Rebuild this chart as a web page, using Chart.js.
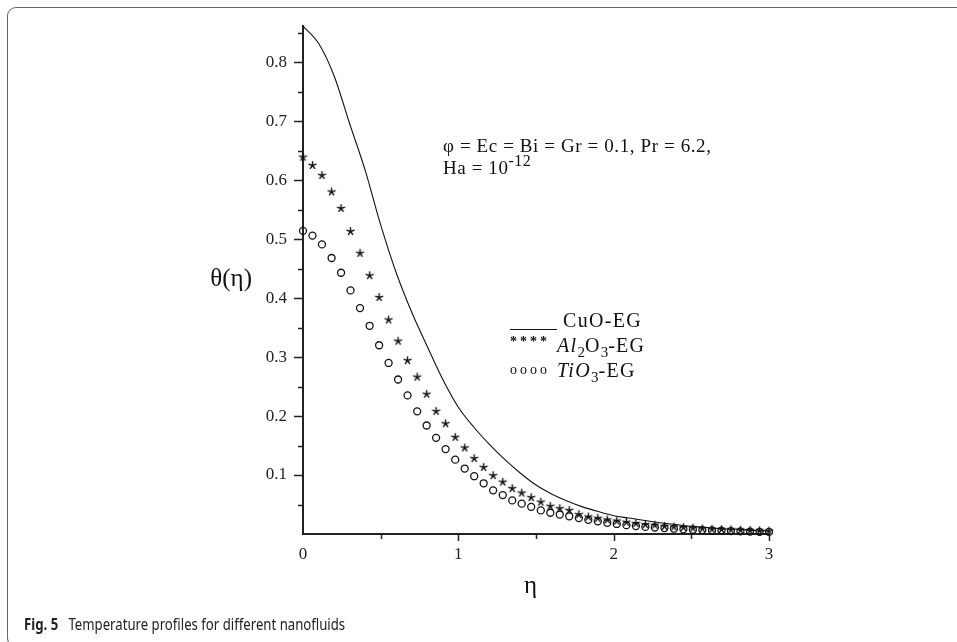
<!DOCTYPE html>
<html>
<head>
<meta charset="utf-8">
<title>Temperature profiles</title>
<script src="https://cdn.jsdelivr.net/npm/chart.js@4"></script>
<style>
  html, body { margin: 0; padding: 0; background: #fff; }
  #wrap { position: relative; width: 957px; height: 642px; overflow: hidden; }
  #plot { position: absolute; left: 0; top: 0; }
  .frame {
    position: absolute; left: 7px; top: 7px; width: 1000px; height: 638px;
    border-top: 1.3px solid #666; border-left: 1.3px solid #666; border-bottom: 1.3px solid #666;
    border-radius: 9px 0 0 9px;
  }
  .txt { position: absolute; white-space: nowrap; line-height: 1; color: #111;
         font-family: "Liberation Serif", "Times New Roman", serif; }
  .note { font-size: 19px; letter-spacing: 0.6px; }
  .leg { font-size: 20px; letter-spacing: 1.3px; }
  .sub { font-size: 15px; position: relative; top: 5px; letter-spacing: 0; }
  .sup { font-size: 16px; position: relative; top: -8px; letter-spacing: 0.4px; }
  .marks { font-size: 14px; letter-spacing: 3px; font-weight: bold; }
  .caption { position: absolute; left: 24px; top: 617px; white-space: nowrap; line-height: 1;
             font-family: "Noto Sans", "Open Sans", sans-serif; font-size: 15.5px; color: #222;
             transform: scaleX(0.85); transform-origin: 0 0; }
  .caption b { margin-right: 8px; }
</style>
</head>
<body>
<div id="wrap">
  <div class="frame"></div>
  <canvas id="plot" width="957" height="642"></canvas>

  <div class="txt" style="left:202px; top:265px; width:50px; text-align:right; font-size:25px;">θ(η)</div>
  <div class="txt" style="left:524px; top:572px; font-size:25px;">η</div>

  <div class="txt note" style="left:443px; top:136px;">φ = Ec = Bi = Gr = 0.1, Pr = 6.2,</div>
  <div class="txt note" style="left:443px; top:158px;">Ha = 10<span class="sup">-12</span></div>

  <div class="txt leg" style="left:563px; top:310px;">CuO-EG</div>
  <div style="position:absolute; left:510px; top:329px; width:47px; height:0; border-top:1.5px solid #111;"></div>
  <div class="txt marks" style="left:510px; top:335px;">****</div>
  <div class="txt leg" style="left:557px; top:335px;"><i>Al</i><span class="sub">2</span>O<span class="sub">3</span>-EG</div>
  <div class="txt marks" style="left:510px; top:363px; font-weight:normal;">oooo</div>
  <div class="txt leg" style="left:557px; top:360px;"><i>TiO</i><span class="sub">3</span>-EG</div>

  <div class="caption"><b>Fig. 5</b> Temperature profiles for different nanofluids</div>
</div>

<script>
// similarity variable for the solid curve
const etaLine = [0, 0.1, 0.2, 0.3, 0.4, 0.5, 0.6, 0.7, 0.8, 0.9, 1.0,
                 1.1, 1.2, 1.3, 1.4, 1.5, 1.6, 1.7, 1.8, 1.9, 2.0,
                 2.1, 2.2, 2.3, 2.4, 2.5, 2.6, 2.7, 2.8, 2.9, 3.0];
const cuoEG = [0.861, 0.832, 0.777, 0.696, 0.617, 0.524, 0.443, 0.376, 0.318, 0.262, 0.215,
               0.181, 0.152, 0.126, 0.103, 0.083, 0.068, 0.056, 0.046, 0.038, 0.031,
               0.027, 0.023, 0.019, 0.016, 0.013, 0.011, 0.009, 0.008, 0.006, 0.005];

// similarity variable for the marker series
const etaPts = [0, 0.061, 0.122, 0.184, 0.245, 0.306, 0.367, 0.429, 0.490, 0.551,
                0.612, 0.673, 0.735, 0.796, 0.857, 0.918, 0.980, 1.041, 1.102, 1.163,
                1.224, 1.286, 1.347, 1.408, 1.469, 1.531, 1.592, 1.653, 1.714, 1.776,
                1.837, 1.898, 1.959, 2.020, 2.082, 2.143, 2.204, 2.265, 2.327, 2.388,
                2.449, 2.510, 2.571, 2.633, 2.694, 2.755, 2.816, 2.878, 2.939, 3.0];
const al2o3EG = [0.639, 0.625, 0.608, 0.580, 0.552, 0.513, 0.476, 0.438, 0.401, 0.363,
                 0.327, 0.294, 0.266, 0.237, 0.208, 0.187, 0.164, 0.146, 0.128, 0.113,
                 0.099, 0.088, 0.077, 0.0695, 0.0617, 0.054, 0.047, 0.043, 0.040, 0.033,
                 0.029, 0.0266, 0.024, 0.022, 0.020, 0.018, 0.016, 0.015, 0.013, 0.012,
                 0.011, 0.010, 0.009, 0.008, 0.0075, 0.007, 0.0065, 0.006, 0.0055, 0.005];
const tio3EG = [0.514, 0.506, 0.491, 0.468, 0.443, 0.413, 0.383, 0.353, 0.320, 0.290,
                0.262, 0.235, 0.208, 0.184, 0.163, 0.144, 0.126, 0.111, 0.098, 0.086,
                0.074, 0.066, 0.057, 0.0515, 0.046, 0.040, 0.036, 0.033, 0.030, 0.027,
                0.024, 0.0215, 0.019, 0.017, 0.015, 0.0135, 0.012, 0.011, 0.010, 0.009,
                0.008, 0.0073, 0.0066, 0.006, 0.0055, 0.005, 0.0045, 0.004, 0.0037, 0.0035];

// tick positions (major ones get labels)
const yTicks = [0.05, 0.1, 0.15, 0.2, 0.25, 0.3, 0.35, 0.4, 0.45, 0.5, 0.55, 0.6, 0.65, 0.7, 0.75, 0.8, 0.85];
const xTicks = [0.5, 1, 1.5, 2, 2.5, 3];

function toPoints(xs, ys) {
    return xs.map((x, i) => ({ x: x, y: ys[i] }));
}

// small five-armed asterisk used as marker
function makeAsterisk() {
    const c = document.createElement("canvas");
    c.width = 11; c.height = 11;
    const g = c.getContext("2d");
    g.strokeStyle = "#111";
    g.lineWidth = 1.4;
    g.beginPath();
    for (let k = 0; k < 5; k++) {
        const a = -Math.PI / 2 + k * 2 * Math.PI / 5;
        g.moveTo(5.5, 5.5);
        g.lineTo(5.5 + 4.2 * Math.cos(a), 5.5 + 4.2 * Math.sin(a));
    }
    g.stroke();
    return c;
}

const axisTicks = {
    id: "axisTicks",
    afterDraw(chart) {
        const ctx = chart.ctx;
        const xs = chart.scales.x, ys = chart.scales.y;
        const left = chart.chartArea.left, bottom = chart.chartArea.bottom;
        ctx.save();
        ctx.strokeStyle = "#222";
        ctx.lineWidth = 1.5;
        ctx.beginPath();
        yTicks.forEach(v => {
            const major = Math.abs(v * 10 - Math.round(v * 10)) < 1e-6;
            const py = Math.round(ys.getPixelForValue(v)) + 0.5;
            ctx.moveTo(left, py);
            ctx.lineTo(left - (major ? 9 : 5), py);
        });
        xTicks.forEach(v => {
            const major = Number.isInteger(v);
            const px = Math.round(xs.getPixelForValue(v)) + 0.5;
            ctx.moveTo(px, bottom);
            ctx.lineTo(px, bottom + (major ? 7 : 5));
        });
        ctx.stroke();
        ctx.restore();
    }
};

const tickFont = { family: "Liberation Serif", size: 17 };

new Chart(document.getElementById("plot"), {
    type: "scatter",
    data: {
        datasets: [
            {
                label: "CuO-EG",
                data: toPoints(etaLine, cuoEG),
                showLine: true,
                borderColor: "#111",
                borderWidth: 1.1,
                pointRadius: 0,
                cubicInterpolationMode: "monotone"
            },
            {
                label: "TiO3-EG",
                data: toPoints(etaPts, tio3EG),
                pointStyle: "circle",
                pointRadius: 3.5,
                borderWidth: 1.3,
                borderColor: "#111",
                backgroundColor: "rgba(0,0,0,0)"
            },
            {
                label: "Al2O3-EG",
                data: toPoints(etaPts, al2o3EG),
                pointStyle: makeAsterisk(),
                pointRadius: 4
            }
        ]
    },
    options: {
        responsive: false,
        animation: false,
        clip: false,
        layout: { padding: { top: 26, right: 188, left: 0, bottom: 0 } },
        plugins: {
            legend: { display: false },
            tooltip: { enabled: false }
        },
        scales: {
            x: {
                type: "linear",
                min: 0,
                max: 3,
                afterFit: s => { s.height = 108; },
                grid: { display: true, drawOnChartArea: false, drawTicks: false },
                border: { color: "#222", width: 2 },
                ticks: { stepSize: 1, color: "#222", font: tickFont, padding: 10, maxRotation: 0 }
            },
            y: {
                type: "linear",
                min: 0,
                max: 0.861,
                afterFit: s => { s.width = 303; },
                grid: { display: true, drawOnChartArea: false, drawTicks: false },
                border: { color: "#222", width: 2 },
                ticks: {
                    stepSize: 0.1,
                    includeBounds: false,
                    color: "#222",
                    font: tickFont,
                    padding: 16,
                    callback: v => (v === 0 ? "" : v.toFixed(1))
                }
            }
        }
    },
    plugins: [axisTicks]
});
</script>
</body>
</html>
